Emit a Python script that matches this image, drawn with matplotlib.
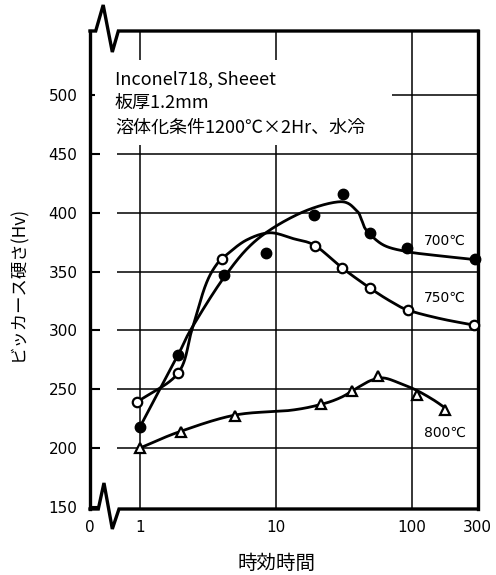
import numpy as np
import matplotlib
matplotlib.use("Agg")
import matplotlib.pyplot as plt
from matplotlib.patches import Rectangle
from matplotlib.lines import Line2D

plt.rcParams['font.family'] = ['Noto Sans CJK JP', 'DejaVu Sans']

# ---- measured points ----
p700_x = [1.0, 1.9, 4.15, 8.4, 19, 31, 49, 92, 290]
p700_y = [218, 279, 347, 366, 398, 416, 383, 370, 361]
p750_x = [0.95, 1.9, 4.0, 19.4, 30.7, 49, 93, 286]
p750_y = [239, 263.5, 360.5, 372, 353, 336, 317, 305]
p800_x = [1.0, 2.0, 5.0, 21.3, 36.3, 55.7, 108, 175]
p800_y = [200, 214, 227.5, 237, 248.5, 261, 245, 232]

# ---- hand-drawn fitted curves (knots) ----
c700_x = [1.0, 1.9, 2.4, 4.2, 7.2, 15, 29.5, 39, 42.5, 46.3, 61.5, 91.5, 143, 300]
c700_y = [218, 279, 302, 346, 377, 399.6, 409.4, 402, 394, 385, 372.6, 367, 364, 360]
c750_x = [0.95, 1.9, 2.4, 3.0, 3.6, 4.4, 6.1, 9.0, 13.4, 19.4, 30.7, 49, 68.8, 93, 161, 300]
c750_y = [239, 263.5, 300, 337, 355, 365, 377, 383, 378, 372, 353, 336, 325, 317.3, 310, 304]
c800_x = [1.0, 1.97, 5.0, 12.7, 21.3, 30, 40, 50, 62, 81.5, 108, 143, 175]
c800_y = [200, 214, 228, 232, 237, 243, 251.5, 257.5, 259.5, 255, 249, 241, 234]

series_labels = ['700\u2103', '750\u2103', '800\u2103']
label_x = [175, 175, 175]
label_y = [376, 327.5, 212.8]

x_ticks = [1, 10, 100, 300]
x_ticklabels = ['0', '1', '10', '100', '300']
y_ticks = [150, 200, 250, 300, 350, 400, 450, 500]

note_lines = ['Inconel718, Sheeet', '板厚1.2mm', '溶体化条件1200\u2103\u00d72Hr、水冷']
xlabel = '時効時間'
ylabel = 'ビッカース硬さ(Hv)'

XMIN, XMAX = 0.4288, 305
YMIN, YMAX = 148.1, 554.6


def smooth(xs, ys, n=40):
    P = np.column_stack([np.log10(xs), np.asarray(ys, float)])
    P = np.vstack([2 * P[0] - P[1], P, 2 * P[-1] - P[-2]])
    t = np.linspace(0, 1, n, endpoint=False)[:, None]
    out = []
    for i in range(1, len(P) - 2):
        p0, p1, p2, p3 = P[i - 1], P[i], P[i + 1], P[i + 2]
        seg = 0.5 * (2 * p1 + (-p0 + p2) * t + (2 * p0 - 5 * p1 + 4 * p2 - p3) * t ** 2
                     + (-p0 + 3 * p1 - 3 * p2 + p3) * t ** 3)
        out.append(seg)
    out.append(P[-2][None, :])
    pts = np.vstack(out)
    return 10 ** pts[:, 0], pts[:, 1]


fig = plt.figure(figsize=(4.96, 5.75), dpi=100)
W, H = 496, 575
L, R, T, B = 90, 478, 31, 509
ax = fig.add_axes([L / W, 1 - B / H, (R - L) / W, (B - T) / H])
ax.set_xscale('log')
ax.set_xlim(XMIN, XMAX)
ax.set_ylim(YMIN, YMAX)

# grid
for yv in y_ticks[1:]:
    ax.plot([0.677, XMAX], [yv, yv], color='black', lw=1.1, zorder=1, solid_capstyle='butt')
for xv in x_ticks[:-1]:
    ax.plot([xv, xv], [YMIN, YMAX], color='black', lw=1.1, zorder=1, solid_capstyle='butt')

# white box behind the note
ax.add_patch(Rectangle((0.466, 457.7), 71 - 0.466, 530 - 457.7, facecolor='white',
                       edgecolor='none', zorder=2))
note_y = [513, 493, 472]
for s, yy in zip(note_lines, note_y):
    ax.text(0.655, yy, s, fontsize=13, va='center', ha='left', zorder=3)

# curves
for cx, cy in [(c700_x, c700_y), (c750_x, c750_y), (c800_x, c800_y)]:
    sx, sy = smooth(cx, cy)
    ax.plot(sx, sy, color='black', lw=2.0, zorder=4, clip_on=False)

# markers
ax.plot(p700_x, p700_y, 'o', ms=7.5, mfc='black', mec='black', zorder=5, clip_on=False)
ax.plot(p750_x, p750_y, 'o', ms=6.8, mfc='white', mec='black', mew=1.6, zorder=5, clip_on=False)
ax.plot(p800_x, p800_y, '^', ms=7.5, mfc='white', mec='black', mew=1.6, zorder=5, clip_on=False)

for s, lx, ly in zip(series_labels, label_x, label_y):
    ax.text(lx, ly, s, fontsize=10, ha='center', va='center', zorder=6,
            family=['DejaVu Sans', 'Noto Sans CJK JP'])

# ticks
ax.set_xticks([XMIN] + x_ticks)
ax.set_xticklabels(x_ticklabels)
ax.xaxis.set_minor_locator(matplotlib.ticker.NullLocator())
ax.tick_params(axis='x', length=0, pad=8, labelsize=11)
ax.set_yticks(y_ticks)
ax.tick_params(axis='y', direction='in', length=7, width=1.5, pad=9, labelsize=11)
for lab in ax.get_xticklabels() + ax.get_yticklabels():
    lab.set_family('DejaVu Sans')

# spines
for sp in ['left', 'right']:
    ax.spines[sp].set_linewidth(2.4)
for sp in ['top', 'bottom']:
    ax.spines[sp].set_visible(False)

tr = ax.transAxes
top_x = [0.0, 0.0147, 0.034, 0.0575, 0.073, 1.0]
top_y = [1.0, 1.0, 1.0544, 0.956, 1.0, 1.0]
bot_x = [0.0, 0.0214, 0.036, 0.0575, 0.0747, 1.0]
bot_y = [0.0, 0.0, 0.0544, -0.0418, 0.0, 0.0]
for xs, ys in [(top_x, top_y), (bot_x, bot_y)]:
    ax.add_line(Line2D(xs, ys, transform=tr, color='black', lw=2.4, clip_on=False,
                       solid_joinstyle='miter', solid_capstyle='projecting', zorder=7))

fig.text(276.5 / W, 1 - 563 / H, xlabel, fontsize=14, ha='center', va='center')
fig.text(18 / W, 1 - 283.5 / H, ylabel, fontsize=12.5, ha='center', va='center', rotation=90)

fig.savefig('out.png', dpi=100)
